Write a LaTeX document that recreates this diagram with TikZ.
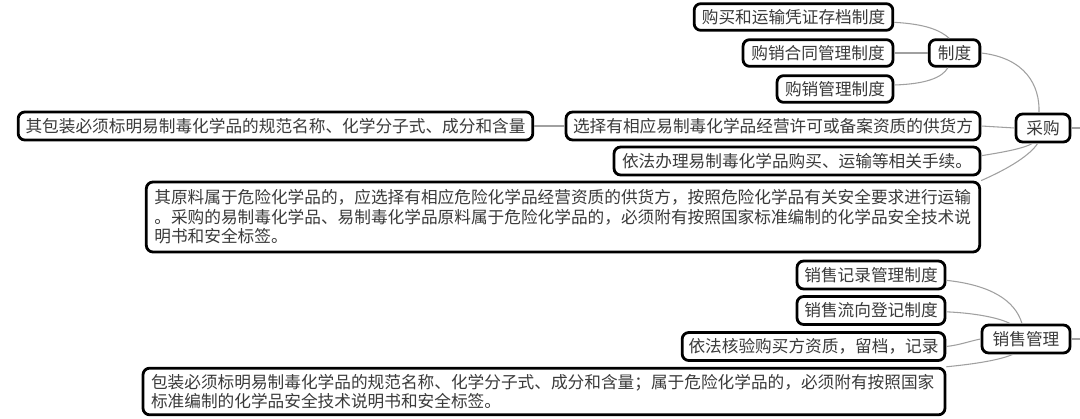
\documentclass[tikz,border=0pt]{standalone}
\usepackage{fontspec}
\setmainfont{Noto Sans CJK SC}
\usepackage{xcolor}
\usepackage{tikz}
\usetikzlibrary{positioning}
\definecolor{inkgray}{HTML}{3A3A3A}
\definecolor{wiregray}{HTML}{A0A0A0}
\tikzset{every node/.style={font=\fontsize{12.5}{14.6}\selectfont}}

\begin{document}
\begin{tikzpicture}[
  x=0.75pt, y=-0.75pt,
  leaf/.style={
    draw,
    rectangle,
    rounded corners=5pt,
    line width=2.1pt,
    fill=white,
    text=inkgray,
    inner xsep=4pt,
    inner ysep=0pt,
    minimum height=20pt
  },
  note/.style={leaf, align=left, inner xsep=6pt},
  branch/.style={draw=wiregray, line width=0.8pt}
]

\useasboundingbox (0,0) rectangle (1080,418);

% 采购
\node[leaf, minimum width=40.5pt, minimum height=21pt] (cg) at (1043,128) {采购};
\coordinate (cgr) at (1080,128);

\node[leaf, minimum width=38pt] (zd) at (954.5,53) {制度};
\node[leaf, minimum width=149pt] (zd1) at (793.5,17) {购买和运输凭证存档制度};
\node[leaf, minimum width=112.5pt] (zd2) at (818,53) {购销合同管理制度};
\node[leaf, minimum width=87pt] (zd3) at (835,89) {购销管理制度};

\node[leaf, minimum width=310.5pt, minimum height=21pt] (gh) at (773,126)
{选择有相应易制毒化学品经营许可或备案资质的供货方};
\node[leaf, minimum width=386pt, minimum height=21pt] (bz) at (275.5,126)
{其包装必须标明易制毒化学品的规范名称、化学分子式、成分和含量};
\node[leaf, minimum width=274.5pt, minimum height=21pt] (sx) at (797,161)
{依法办理易制毒化学品购买、运输等相关手续。};
\node[note, text width=613pt, minimum height=52.5pt] (yl) at (563,217)
{其原料属于危险化学品的，应选择有相应危险化学品经营资质的供货方，按照危险化学品有关安全要求进行运输\\
。采购的易制毒化学品、易制毒化学品原料属于危险化学品的，必须附有按照国家标准编制的化学品安全技术说\\
明书和安全标签。};

\draw[branch] (zd.east) .. controls (1025,58) and (1040,85) .. ([xshift=-3pt]cg.north);
\draw[branch] ([yshift=-4pt]zd1.east) .. controls (925,24) and (940,30) .. ([xshift=-4pt]zd.north);
\draw[branch] (zd2.east) -- (zd.west);
\draw[branch] ([yshift=3pt]zd3.east) .. controls (925,84) and (942,78) .. ([xshift=-5pt]zd.south);
\draw[branch] (bz.east) -- (gh.west);
\draw[branch] (gh.east) -- (cg.west);
\draw[branch] ([yshift=4pt]sx.east) .. controls (1005,152) and (1025,148) .. ([xshift=-8pt]cg.south);
\draw[branch] (yl.north east) .. controls (1010,168) and (1030,155) .. ([xshift=-4pt]cg.south);
\draw[branch] (cg.east) -- (cgr);

% 销售管理
\node[leaf, minimum width=66pt, minimum height=21pt] (xsgl) at (1026,339) {销售管理};
\coordinate (xsr) at (1080,339);

\node[leaf, minimum width=111pt, minimum height=21pt] (xs1) at (871,275) {销售记录管理制度};
\node[leaf, minimum width=111pt, minimum height=21pt] (xs2) at (871,310.5) {销售流向登记制度};
\node[leaf, minimum width=197pt, minimum height=21pt] (hy) at (813.5,346.5)
{依法核验购买方资质，留档，记录};
\node[note, text width=589.5pt, minimum height=35pt] (bz2) at (544,391.5)
{包装必须标明易制毒化学品的规范名称、化学分子式、成分和含量；属于危险化学品的，必须附有按照国家\\
标准编制的化学品安全技术说明书和安全标签。};

\draw[branch] ([yshift=-4pt]xs1.east) .. controls (990,285) and (1015,300) .. ([xshift=-3pt]xsgl.north);
\draw[branch] ([yshift=-1pt]xs2.east) .. controls (975,313) and (1000,318) .. ([xshift=-12pt]xsgl.north);
\draw[branch] (hy.east) .. controls (960,345) and (970,341) .. (xsgl.west);
\draw[branch] (bz2.north east) .. controls (975,364) and (1000,360) .. ([xshift=-10pt]xsgl.south);
\draw[branch] (xsgl.east) -- (xsr);

\end{tikzpicture}
\end{document}
